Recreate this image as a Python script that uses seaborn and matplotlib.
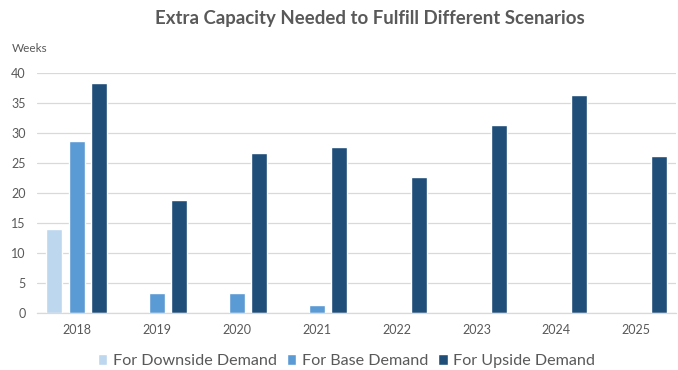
import matplotlib
matplotlib.use("Agg")
import matplotlib.pyplot as plt
import seaborn as sns
import pandas as pd

years = ["2018", "2019", "2020", "2021", "2022", "2023", "2024", "2025"]
downside = [14.0, 0, 0, 0, 0, 0, 0, 0]
base = [28.7, 3.4, 3.4, 1.3, 0, 0, 0, 0]
upside = [38.3, 18.8, 26.6, 27.6, 22.6, 31.4, 36.4, 26.2]
series_names = ["For Downside Demand", "For Base Demand", "For Upside Demand"]
colors = ["#BDD7EE", "#5B9BD5", "#1F4E79"]

df = pd.DataFrame({
    "Year": years * 3,
    "Weeks": downside + base + upside,
    "Scenario": [series_names[0]] * 8 + [series_names[1]] * 8 + [series_names[2]] * 8,
})

sns.set_theme(style="white")
plt.rcParams["font.family"] = ["Lato", "DejaVu Sans"]

fig = plt.figure(figsize=(6.78, 3.70), dpi=100)
ax = fig.add_axes([0.0545, 0.154, 0.943, 0.649])

sns.barplot(data=df, x="Year", y="Weeks", hue="Scenario", palette=colors,
            hue_order=series_names, order=years, width=0.845, gap=0.29,
            ax=ax, saturation=1, errorbar=None)

ax.set_ylim(0, 40)
ax.set_yticks(range(0, 41, 5))
ax.yaxis.grid(True, color="#D9D9D9", linewidth=0.9)
ax.set_axisbelow(True)
for s in ["top", "right", "left"]:
    ax.spines[s].set_visible(False)
ax.spines["bottom"].set_color("#D9D9D9")
ax.spines["bottom"].set_linewidth(0.9)
ax.set_xlabel("")
ax.set_ylabel("")
ax.tick_params(axis="both", length=0, labelsize=9, colors="#595959", pad=8)
ax.tick_params(axis="y", pad=8)
ax.set_xlim(-0.5, 7.5)

fig.text(0.018, 0.87, "Weeks", fontsize=8.5, color="#595959", ha="left", va="center")
fig.text(0.545, 0.95, "Extra Capacity Needed to Fulfill Different Scenarios",
         fontsize=13.4, fontweight="bold", color="#595959", ha="center", va="center")

handles, labels = ax.get_legend_handles_labels()
ax.legend_.remove()
fig.legend(handles, labels, loc="center", bbox_to_anchor=(0.511, 0.024), ncol=3,
           frameon=False, fontsize=11.6, labelcolor="#595959",
           handlelength=0.6, handleheight=0.6, handletextpad=0.35, columnspacing=0.6)

fig.savefig("out.png", dpi=100, facecolor="white")
